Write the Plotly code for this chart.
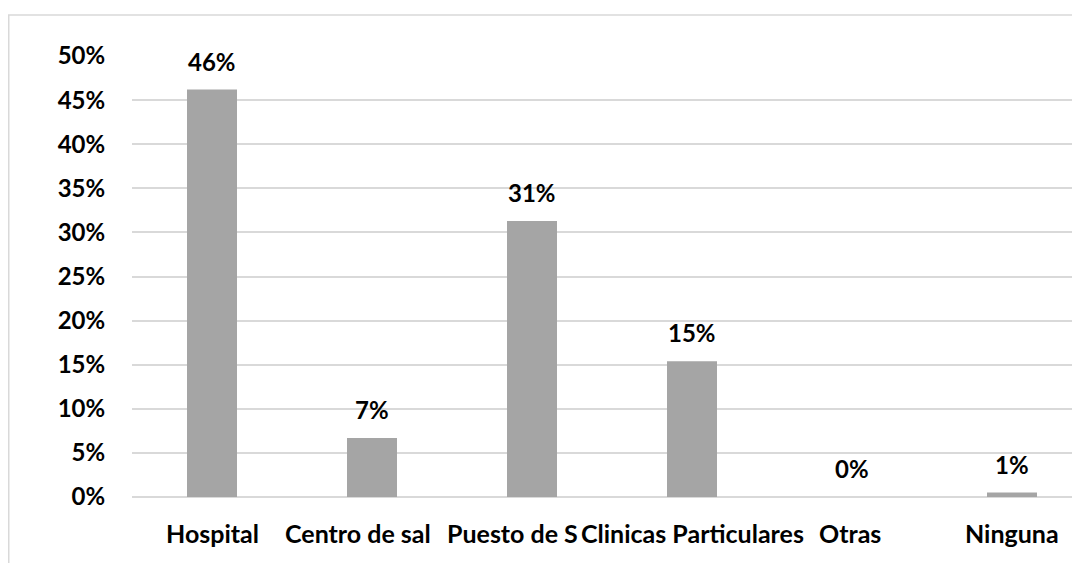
import plotly.graph_objects as go

categories = ["Hospital", "Centro de salud", "Puesto de Salud", "Clinicas Particulares", "Otras", "Ninguna"]
tick_labels = ["Hospital", "Centro de sal", "Puesto de S", "Clinicas Particulares", "Otras", "Ninguna"]
values = [0.462, 0.067, 0.313, 0.154, 0.0, 0.005]
value_labels = ["46%", "7%", "31%", "15%", "0%", "1%"]
y_ticks = [0, 0.05, 0.10, 0.15, 0.20, 0.25, 0.30, 0.35, 0.40, 0.45, 0.50]
y_tick_labels = ["0%", "5%", "10%", "15%", "20%", "25%", "30%", "35%", "40%", "45%", "50%"]
# horizontal pixel offsets of the (clipped) category labels, as in the source
label_shift = [0, -14, -20, 0, -2, 0]

FONT = "Lato"
FS = 24
fig = go.Figure()
fig.add_trace(go.Bar(x=categories, y=values, marker=dict(color="#A5A5A5", line=dict(width=0)),
                     width=0.3125, hoverinfo="skip"))

for c, v, t in zip(categories, values, value_labels):
    fig.add_annotation(x=c, y=v, text=t, showarrow=False, yanchor="bottom", yshift=12,
                       font=dict(family=FONT, size=FS, color="#000000", weight="bold"))

for c, t, s in zip(categories, tick_labels, label_shift):
    fig.add_annotation(x=c, y=0, text=t, showarrow=False, yanchor="middle", yshift=-36, xshift=s,
                       font=dict(family=FONT, size=25, color="#000000", weight="bold"))

fig.update_layout(
    width=1072, height=555,
    margin=dict(l=124, r=0, t=48, b=66, autoexpand=False),
    paper_bgcolor="white", plot_bgcolor="white",
    showlegend=False,
    font=dict(family=FONT, size=FS, color="#000000", weight="bold"),
    xaxis=dict(range=[-0.5, 5.425], showticklabels=False,
               showgrid=False, showline=False, zeroline=False, ticks=""),
    yaxis=dict(range=[0, 0.5], tickmode="array", tickvals=y_ticks, ticktext=y_tick_labels,
               showgrid=True, gridcolor="#D9D9D9", gridwidth=1.5, zeroline=True,
               zerolinecolor="#D9D9D9", zerolinewidth=1.5, showline=False,
               ticks="outside", ticklen=21, tickcolor="rgba(0,0,0,0)",
               tickfont=dict(family=FONT, size=FS, weight="bold")),
    shapes=[dict(type="rect", xref="paper", yref="paper", x0=-0.1300, x1=1.05, y0=-0.3, y1=1.093,
                 line=dict(color="#D9D9D9", width=1.5), fillcolor="rgba(0,0,0,0)", layer="below")],
)

fig.write_html("out.html")
